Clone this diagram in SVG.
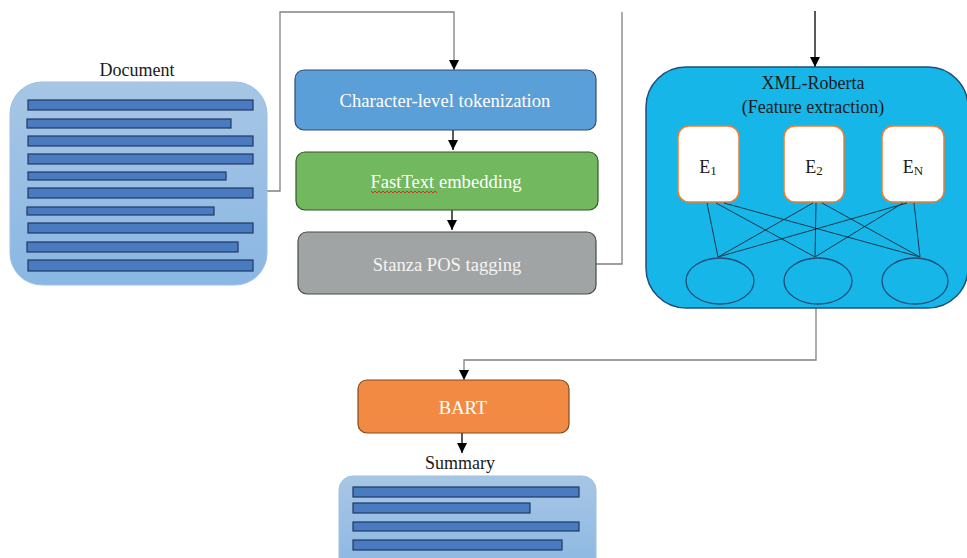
<svg xmlns="http://www.w3.org/2000/svg" width="967" height="558" viewBox="0 0 967 558">
<defs>
  <linearGradient id="docGrad" x1="0" y1="0" x2="0" y2="1">
    <stop offset="0" stop-color="#a7c6e5"/>
    <stop offset="1" stop-color="#8ab7e3"/>
  </linearGradient>
  <marker id="arr" viewBox="0 0 10 10" refX="10" refY="5" markerWidth="10" markerHeight="10" markerUnits="userSpaceOnUse" orient="auto">
    <path d="M0,0 L10,5 L0,10 Z" fill="#000"/>
  </marker>
</defs>
<style>
  .t { font-family: "Liberation Serif", "Times New Roman", serif; font-size: 18px; text-anchor: middle; }
  .b { font-size: 18.6px; }
  .w { fill: #ffffff; }
  .d { fill: #1a1a1a; }
  .bar { fill: #4a7bc0; stroke: #1f3864; stroke-width: 1.2; }
  .conn { fill: none; stroke-width: 1.3; }
  .gray { stroke: #808080; }
  .blk { stroke: #000; }
  .ebox { fill: #ffffff; stroke: #ed7d31; stroke-width: 1.5; }
  .ell { fill: none; stroke: #1f4e79; stroke-width: 1.3; }
  .nn { stroke: #1a2a3a; stroke-width: 0.9; }
</style>

<g id="connectors">
  <path class="conn gray" d="M267,191 H280 V12 H454 V70" marker-end="url(#arr)"/>
  <path class="conn blk" d="M453,130 V150" marker-end="url(#arr)"/>
  <path class="conn blk" d="M452,210 V230" marker-end="url(#arr)"/>
  <path class="conn gray" d="M596,264 H622 V12"/>
  <path class="conn blk" d="M815,11 V67" marker-end="url(#arr)"/>
  <path class="conn gray" d="M816,308 V360 H464 V380" marker-end="url(#arr)"/>
  <path class="conn blk" d="M462,433 V453" marker-end="url(#arr)"/>
</g>

<g id="document">
  <text class="t d" x="137" y="76">Document</text>
  <rect x="10" y="82" width="257" height="203" rx="32" fill="url(#docGrad)" stroke="#9dc0e3" stroke-width="1"/>
  <rect class="bar" x="28" y="100" width="225" height="10"/>
  <rect class="bar" x="27" y="119" width="204" height="9"/>
  <rect class="bar" x="28" y="136" width="225" height="10"/>
  <rect class="bar" x="28" y="154" width="225" height="10"/>
  <rect class="bar" x="28" y="172" width="198" height="8"/>
  <rect class="bar" x="28" y="188" width="225" height="10"/>
  <rect class="bar" x="27" y="207" width="187" height="8"/>
  <rect class="bar" x="28" y="223" width="225" height="10"/>
  <rect class="bar" x="27" y="242" width="211" height="10"/>
  <rect class="bar" x="28" y="260" width="225" height="11"/>
</g>

<g id="char-tokenization">
  <rect x="295" y="70" width="301" height="60" rx="9" fill="#5b9fd8" stroke="#2f4f6f" stroke-width="1.2"/>
  <text class="t b w" x="445" y="107">Character-level tokenization</text>
</g>

<g id="fasttext">
  <rect x="296" y="152" width="302" height="58" rx="9" fill="#71b85f" stroke="#2f5a2a" stroke-width="1.2"/>
  <text class="t b w" x="446" y="188">FastText embedding</text>
  <path d="M371,191 l2,2 l2,-2 l2,2 l2,-2 l2,2 l2,-2 l2,2 l2,-2 l2,2 l2,-2 l2,2 l2,-2 l2,2 l2,-2 l2,2 l2,-2 l2,2 l2,-2 l2,2 l2,-2 l2,2 l2,-2 l2,2 l2,-2 l2,2 l2,-2 l2,2 l2,-2 l2,2 l2,-2 l2,2 l2,-2 l2,2" fill="none" stroke="#e02020" stroke-width="0.9"/>
</g>

<g id="stanza">
  <rect x="298" y="232" width="298" height="62" rx="9" fill="#a1a4a5" stroke="#4a4a4a" stroke-width="1.2"/>
  <text class="t b" x="447" y="271" fill="#f4f4f4">Stanza POS tagging</text>
</g>

<g id="xml-roberta">
  <rect x="646" y="67" width="322" height="241" rx="40" fill="#17b6e9" stroke="#1f4e79" stroke-width="1.5"/>
  <text class="t d" x="813" y="89">XML-Roberta</text>
  <text class="t d" x="813" y="113">(Feature extraction)</text>
  <g id="e1">
    <rect class="ebox" x="678" y="126" width="61" height="76" rx="11"/>
    <text class="t d" x="708" y="173" font-size="20">E<tspan font-size="13" dy="2">1</tspan></text>
  </g>
  <g id="e2">
    <rect class="ebox" x="784" y="126" width="60" height="76" rx="11"/>
    <text class="t d" x="814" y="173" font-size="20">E<tspan font-size="13" dy="2">2</tspan></text>
  </g>
  <g id="en">
    <rect class="ebox" x="882" y="126" width="62" height="76" rx="11"/>
    <text class="t d" x="913" y="173" font-size="20">E<tspan font-size="13" dy="2">N</tspan></text>
  </g>
  <g id="links">
    <line class="nn" x1="707" y1="203" x2="718" y2="257"/>
    <line class="nn" x1="716" y1="203" x2="815" y2="257"/>
    <line class="nn" x1="724" y1="203" x2="920" y2="257"/>
    <line class="nn" x1="813" y1="203" x2="718" y2="257"/>
    <line class="nn" x1="816" y1="203" x2="815" y2="257"/>
    <line class="nn" x1="822" y1="203" x2="920" y2="257"/>
    <line class="nn" x1="907" y1="203" x2="718" y2="257"/>
    <line class="nn" x1="903" y1="203" x2="815" y2="257"/>
    <line class="nn" x1="914" y1="203" x2="920" y2="257"/>
  </g>
  <g id="n1"><ellipse class="ell" cx="720" cy="281" rx="34" ry="23"/></g>
  <g id="n2"><ellipse class="ell" cx="818" cy="281" rx="34" ry="23"/></g>
  <g id="n3"><ellipse class="ell" cx="915" cy="281" rx="33" ry="23"/></g>
</g>

<g id="bart">
  <rect x="358" y="380" width="211" height="53" rx="9" fill="#f38a43" stroke="#7f4a1e" stroke-width="1.2"/>
  <text class="t b w" x="463" y="414">BART</text>
</g>

<g id="summary">
  <text class="t d" x="460" y="469">Summary</text>
  <rect x="339" y="476" width="257" height="100" rx="14" fill="url(#docGrad)" stroke="#9dc0e3" stroke-width="1"/>
  <rect class="bar" x="353" y="487" width="226" height="10"/>
  <rect class="bar" x="353" y="503" width="177" height="10"/>
  <rect class="bar" x="353" y="522" width="226" height="9"/>
  <rect class="bar" x="353" y="540" width="209" height="10"/>
</g>
</svg>
